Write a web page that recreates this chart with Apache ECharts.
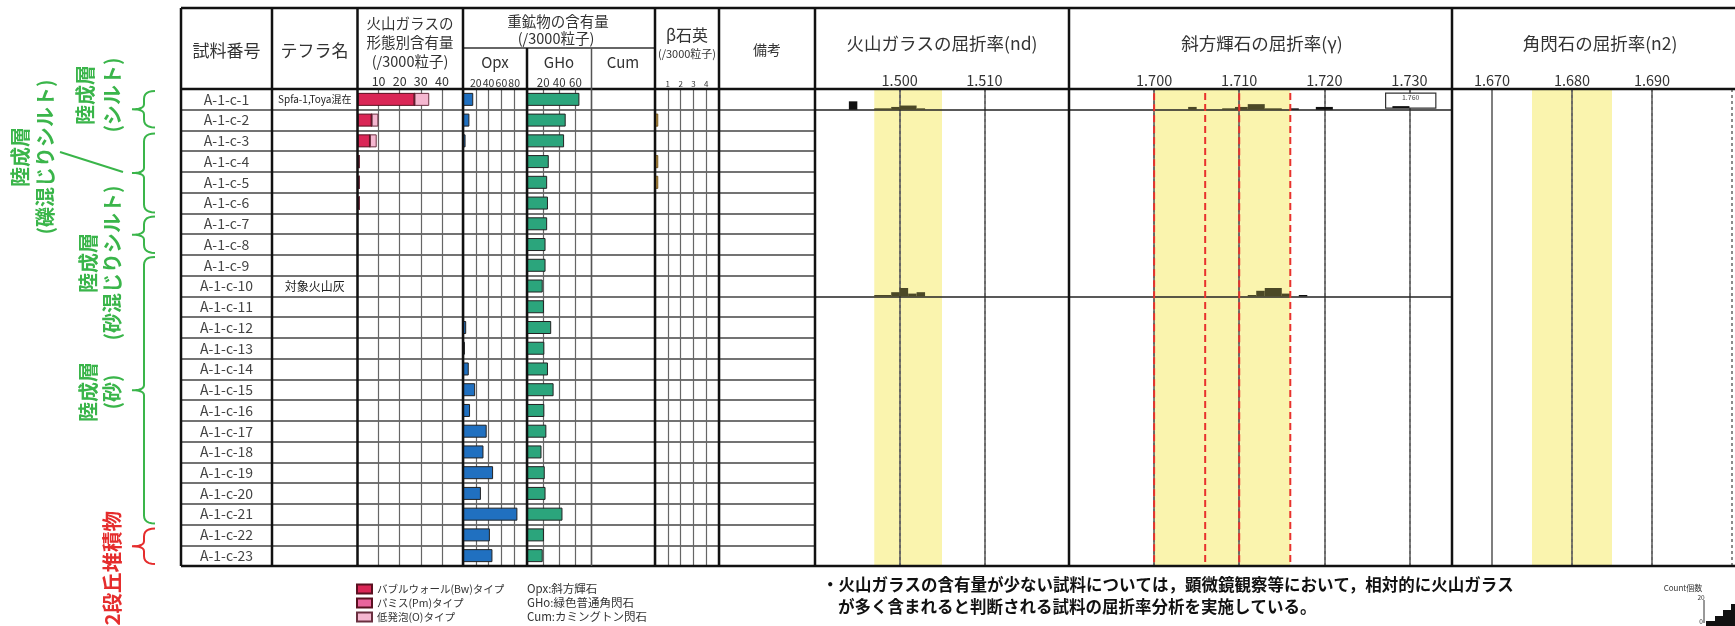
<!DOCTYPE html>
<html>
<head>
<meta charset="utf-8">
<script src="https://cdn.jsdelivr.net/npm/echarts@6/dist/echarts.min.js"></script>
<style>
html, body { margin: 0; padding: 0; background: #fff; }
#main { width: 1735px; height: 626px; }
</style>
</head>
<body>
<div id="main"></div>
<script>
var sampleIds = ['A-1-c-1', 'A-1-c-2', 'A-1-c-3', 'A-1-c-4', 'A-1-c-5', 'A-1-c-6', 'A-1-c-7', 'A-1-c-8',
    'A-1-c-9', 'A-1-c-10', 'A-1-c-11', 'A-1-c-12', 'A-1-c-13', 'A-1-c-14', 'A-1-c-15', 'A-1-c-16',
    'A-1-c-17', 'A-1-c-18', 'A-1-c-19', 'A-1-c-20', 'A-1-c-21', 'A-1-c-22', 'A-1-c-23'];
var tephraNames = ['Spfa-1,Toya混在', '', '', '', '', '', '', '', '', '対象火山灰', '', '', '', '', '', '', '', '', '', '', '', '', ''];

// 火山ガラスの形態別含有量 (/3000粒子)
var glassBw = [27, 6.7, 5.9, 0.8, 0.8, 0.9, 0, 0, 0, 0, 0, 0, 0, 0, 0, 0, 0, 0, 0, 0, 0, 0, 0];
var glassPm = [0, 0, 0, 0, 0, 0, 0, 0, 0, 0, 0, 0, 0, 0, 0, 0, 0, 0, 0, 0, 0, 0, 0];
var glassO = [7, 3.2, 3.2, 0, 0, 0, 0, 0, 0, 0, 0, 0, 0, 0, 0, 0, 0, 0, 0, 0, 0, 0, 0];
// 重鉱物の含有量 (/3000粒子)
var opx = [16, 10, 4, 0, 0, 0, 0, 0, 0, 0, 0, 5, 3, 9, 19, 11, 37, 32, 47, 28, 85, 42, 46];
var gho = [65, 48, 46, 27, 25, 26, 25, 23, 23, 19.5, 21, 30, 21.5, 26, 33, 21.5, 24, 18, 22, 23, 44, 21, 19.5];
var cum = [0, 0, 0, 0, 0, 0, 0, 0, 0, 0, 0, 0, 0, 0, 0, 0, 0, 0, 0, 0, 0, 0, 0];
var betaQz = [0, 0.25, 0, 0.25, 0.25, 0, 0, 0, 0, 0, 0, 0, 0, 0, 0, 0, 0, 0, 0, 0, 0, 0, 0];

var glassTicks = [10, 20, 30, 40];
var opxTicks = [20, 40, 60, 80];
var ghoTicks = [20, 40, 60];
var betaTicks = [1, 2, 3, 4];

// 屈折率 histograms: [from, to, count]
var glassHistA1c1 = [[1.494, 1.495, 6], [1.497, 1.499, 1], [1.499, 1.500, 2], [1.500, 1.502, 3], [1.502, 1.503, 1]];
var glassHistA1c10 = [[1.497, 1.499, 1], [1.499, 1.500, 3], [1.500, 1.501, 6], [1.501, 1.502, 2], [1.502, 1.503, 3]];
var opxHistA1c1 = [[1.704, 1.705, 2], [1.708, 1.7095, 1], [1.7095, 1.711, 2], [1.711, 1.713, 4], [1.713, 1.715, 1],
    [1.716, 1.717, 1], [1.719, 1.721, 2]];
var opxHistA1c10 = [[1.711, 1.712, 1], [1.712, 1.713, 4], [1.713, 1.715, 6], [1.715, 1.716, 2], [1.717, 1.718, 1]];
var opxOutlierA1c1 = [1.760, 1];

var ndTicks = ['1.500', '1.510'];
var ndMinor = [1.495, 1.505, 1.515];
var gammaTicks = ['1.700', '1.710', '1.720', '1.730'];
var gammaMinor = [1.695, 1.705, 1.715, 1.725];
var n2Ticks = ['1.670', '1.680', '1.690'];
var n2Minor = [1.675, 1.685, 1.695];
var ndBand = [1.497, 1.505];
var gammaBand = [1.700, 1.716];
var gammaBoxes = [[1.700, 1.706], [1.710, 1.716]];
var n2Band = [1.675, 1.685];

var FONT = '"Noto Sans CJK JP", "Noto Sans", sans-serif';
var TOP = 8, HB = 89, BOT = 566;
var cols = [181, 272, 357.5, 463, 527, 591.5, 655, 719, 815, 1069, 1452, 1749.5];
var rowPx = (BOT - HB) / sampleIds.length;
var countRows = 1.4 / rowPx; // 1 count = 1.4px

var myChart = echarts.init(document.getElementById('main'));

var grids = [], xAxes = [], yAxes = [];
for (var i = 0; i < cols.length - 1; i++) {
    grids.push({ left: cols[i], width: cols[i + 1] - cols[i], top: HB, height: BOT - HB });
}

function hiddenX(gi) {
    return { type: 'value', gridIndex: gi, min: 0, max: 1, show: false };
}
function tickX(gi, max, ticks, size) {
    return {
        type: 'value', gridIndex: gi, min: 0, max: max, interval: ticks[1] - ticks[0], position: 'top',
        axisLine: { show: false }, axisTick: { show: false },
        axisLabel: {
            margin: 1, fontSize: size, color: '#333', fontFamily: FONT,
            formatter: function (v) { return ticks.indexOf(v) >= 0 ? String(v) : ''; }
        },
        splitLine: { show: true, lineStyle: { color: '#666', width: 1.2 } }
    };
}
function rowY(gi, label) {
    return {
        type: 'category', gridIndex: gi, data: sampleIds, inverse: true,
        axisLine: { show: false }, axisTick: { show: false },
        axisLabel: label || { show: false },
        splitLine: { show: true, interval: 0, lineStyle: { color: '#444', width: 1.5 } }
    };
}

xAxes.push(hiddenX(0));
yAxes.push(rowY(0, { show: true, inside: true, align: 'center', margin: 45.5, interval: 0,
    fontSize: 14, color: '#444', fontFamily: FONT }));
xAxes.push(hiddenX(1));
yAxes.push(rowY(1, { show: true, inside: true, align: 'center', margin: 42.75, interval: 0,
    fontSize: 12, color: '#222', fontFamily: FONT,
    formatter: function (v, idx) {
        var t = tephraNames[idx];
        return t.length > 6 ? '{s|' + t + '}' : t;
    },
    rich: { s: { fontSize: 10, color: '#222', fontFamily: FONT } } }));
xAxes.push(tickX(2, 50, glassTicks, 12.5)); yAxes.push(rowY(2));
xAxes.push(tickX(3, 100, opxTicks, 10.5)); yAxes.push(rowY(3));
xAxes.push(tickX(4, 80, ghoTicks, 11.5)); yAxes.push(rowY(4));
xAxes.push({ type: 'value', gridIndex: 5, min: 0, max: 10, show: false }); yAxes.push(rowY(5));
xAxes.push(tickX(6, 5, betaTicks, 8)); yAxes.push(rowY(6));
xAxes.push(hiddenX(7)); yAxes.push(rowY(7));

function panelX(gi, min, max, ticks) {
    return {
        type: 'value', gridIndex: gi, min: min, max: max, interval: 0.005, position: 'top',
        axisLine: { show: false }, axisTick: { show: false }, splitLine: { show: false },
        axisLabel: {
            margin: 1, fontSize: 14.5, color: '#333', fontFamily: FONT,
            formatter: function (v) { var s = v.toFixed(3); return ticks.indexOf(s) >= 0 ? s : ''; }
        }
    };
}
function panelY(gi) {
    return { type: 'value', gridIndex: gi, min: 0, max: sampleIds.length, inverse: true, show: false };
}
xAxes.push(panelX(8, 1.490, 1.520, ndTicks)); yAxes.push(panelY(8));
xAxes.push(panelX(9, 1.690, 1.735, gammaTicks)); yAxes.push(panelY(9));
xAxes.push(panelX(10, 1.665, 1.700, n2Ticks)); yAxes.push(panelY(10));

var barBorder = { borderColor: '#222', borderWidth: 1 };
var series = [
    { name: 'バブルウォール(Bw)タイプ', type: 'bar', xAxisIndex: 2, yAxisIndex: 2, stack: 'glass', barWidth: 13,
      itemStyle: { color: '#da2656', borderColor: '#5a1020', borderWidth: 1 }, data: glassBw },
    { name: 'パミス(Pm)タイプ', type: 'bar', xAxisIndex: 2, yAxisIndex: 2, stack: 'glass', barWidth: 13,
      itemStyle: { color: '#e9649c', borderColor: '#5a1020', borderWidth: 1 }, data: glassPm },
    { name: '低発泡(O)タイプ', type: 'bar', xAxisIndex: 2, yAxisIndex: 2, stack: 'glass', barWidth: 13,
      itemStyle: { color: '#f5b7d0', borderColor: '#6a3040', borderWidth: 1 }, data: glassO },
    { name: 'Opx', type: 'bar', xAxisIndex: 3, yAxisIndex: 3, barWidth: 13,
      itemStyle: Object.assign({ color: '#2070c0' }, barBorder), data: opx },
    { name: 'GHo', type: 'bar', xAxisIndex: 4, yAxisIndex: 4, barWidth: 13,
      itemStyle: Object.assign({ color: '#2ba57c' }, barBorder), data: gho },
    { name: 'Cum', type: 'bar', xAxisIndex: 5, yAxisIndex: 5, barWidth: 13,
      itemStyle: Object.assign({ color: '#8a8a8a' }, barBorder), data: cum },
    { name: 'β石英', type: 'bar', xAxisIndex: 6, yAxisIndex: 6, barWidth: 13,
      itemStyle: { color: '#b8903e', borderColor: '#6a4a10', borderWidth: 0.8 }, data: betaQz }
];

function histSeries(gi, rows, band) {
    var data = [];
    rows.forEach(function (r) {
        var row = sampleIds.indexOf(r[0]);
        r[1].forEach(function (b) { data.push([b[0], b[1], b[2], row]); });
    });
    return {
        type: 'custom', xAxisIndex: gi, yAxisIndex: gi, silent: true, z: 3,
        encode: { x: [0, 1], y: 3 }, data: data,
        renderItem: function (params, api) {
            var lo = api.value(0), hi = api.value(1), n = api.value(2), row = api.value(3);
            var a = api.coord([lo, row + 1]);
            var b = api.coord([hi, row + 1 - n * countRows]);
            var inBand = lo >= band[0] - 1e-9 && hi <= band[1] + 1e-9;
            return { type: 'rect', shape: { x: a[0], y: b[1], width: b[0] - a[0], height: a[1] - b[1] },
                style: { fill: inBand ? '#4b4826' : '#111' } };
        }
    };
}

function panelMarks(gi, ticks, minors, band, baseRows, boxes) {
    var lines = [];
    ticks.forEach(function (t) {
        lines.push({ xAxis: parseFloat(t), lineStyle: { type: 'solid', color: '#555', width: 1.5 } });
    });
    minors.forEach(function (t) {
        lines.push({ xAxis: t, lineStyle: { type: [3, 3], color: '#666', width: 1.5 } });
    });
    baseRows.forEach(function (id) {
        lines.push({ yAxis: sampleIds.indexOf(id) + 1, lineStyle: { type: 'solid', color: '#222', width: 1.5 } });
    });
    var out = [{
        type: 'line', xAxisIndex: gi, yAxisIndex: gi, data: [], silent: true,
        markArea: { silent: true, z: 1, itemStyle: { color: '#faf4ae' },
            data: [[{ xAxis: band[0] }, { xAxis: band[1] }]] },
        markLine: { silent: true, z: 2, symbol: ['none', 'none'], label: { show: false }, data: lines }
    }];
    if (boxes) {
        out.push({
            type: 'line', xAxisIndex: gi, yAxisIndex: gi, data: [], silent: true,
            markArea: { silent: true, z: 6,
                itemStyle: { color: 'rgba(0,0,0,0)', borderColor: '#e8322d', borderWidth: 2, borderType: [7, 4] },
                data: boxes.map(function (b) { return [{ xAxis: b[0] }, { xAxis: b[1] }]; }) }
        });
    }
    return out;
}

series = series.concat(panelMarks(8, ndTicks, ndMinor, ndBand, ['A-1-c-1', 'A-1-c-10']));
series.push(histSeries(8, [['A-1-c-1', glassHistA1c1], ['A-1-c-10', glassHistA1c10]], ndBand));
series = series.concat(panelMarks(9, gammaTicks, gammaMinor, gammaBand, ['A-1-c-1', 'A-1-c-10'], gammaBoxes));
series.push(histSeries(9, [['A-1-c-1', opxHistA1c1], ['A-1-c-10', opxHistA1c10]], gammaBand));
series = series.concat(panelMarks(10, n2Ticks, n2Minor, n2Band, []));

// out-of-range value box (1.760) drawn next to the last tick of the γ panel
var lastTick = parseFloat(gammaTicks[gammaTicks.length - 1]);
series.push({
    type: 'custom', xAxisIndex: 9, yAxisIndex: 9, silent: true, z: 4,
    encode: { x: 0, y: 2 },
    data: [[opxOutlierA1c1[0], opxOutlierA1c1[1], sampleIds.indexOf('A-1-c-1')]],
    renderItem: function (params, api) {
        var v = api.value(0), n = api.value(1), row = api.value(2);
        var p0 = api.coord([lastTick - 0.0028, row + 0.2]);
        var p1 = api.coord([lastTick + 0.0031, row + 0.92]);
        var b0 = api.coord([lastTick - 0.002, row + 0.92]);
        var b1 = api.coord([lastTick, row + 0.92 - n * countRows * 1.4]);
        return { type: 'group', children: [
            { type: 'rect', shape: { x: p0[0], y: p0[1], width: p1[0] - p0[0], height: p1[1] - p0[1] },
              style: { fill: '#fff', stroke: '#333', lineWidth: 1.2 } },
            { type: 'text', x: (p0[0] + p1[0]) / 2, y: p0[1] + 4,
              style: { text: v.toFixed(3), fontSize: 7, fill: '#444', fontFamily: FONT, align: 'center', verticalAlign: 'middle' } },
            { type: 'rect', shape: { x: b0[0], y: b1[1], width: b1[0] - b0[0], height: b0[1] - b1[1] },
              style: { fill: '#111' } }
        ] };
    }
});

// ---------- static drawing: table frame, headers, notes ----------
var green = '#3ab54a', red = '#e52d2d';
function txt(s, x, y, size, opt) {
    opt = opt || {};
    var al = opt.align || 'center';
    return { type: 'text', x: x, y: y, rotation: opt.rot || 0, silent: true, z: 20,
        style: { text: s, fill: opt.color || '#333', fontSize: size, fontWeight: opt.bold ? 'bold' : 'normal',
            fontFamily: FONT, align: al, textAlign: al, verticalAlign: 'middle', textVerticalAlign: 'middle',
            lineHeight: opt.lh || size * 1.2 } };
}
function ln(x1, y1, x2, y2, w, c) {
    return { type: 'line', silent: true, z: 15, shape: { x1: x1, y1: y1, x2: x2, y2: y2 },
        style: { stroke: c || '#111', lineWidth: w } };
}
// quadratic curve sampled into points
function quad(p0, c, p1, pts) {
    for (var k = 1; k <= 6; k++) {
        var t = k / 6, u = 1 - t;
        pts.push([u * u * p0[0] + 2 * u * t * c[0] + t * t * p1[0], u * u * p0[1] + 2 * u * t * c[1] + t * t * p1[1]]);
    }
}
function brace(top, bot, c) {
    var mid = (top + bot) / 2, pts = [[155, top]];
    quad([155, top], [144, top], [144, top + 8], pts);
    pts.push([144, mid - 5]);
    quad([144, mid - 5], [144, mid], [132, mid], pts);
    quad([132, mid], [144, mid], [144, mid + 5], pts);
    pts.push([144, bot - 8]);
    quad([144, bot - 8], [144, bot], [155, bot], pts);
    return { type: 'polyline', silent: true, z: 15, shape: { points: pts },
        style: { stroke: c, lineWidth: 2, fill: null } };
}
function rowTop(i) { return HB + i * rowPx; }

var g = [];
g.push(ln(181, TOP, 1735, TOP, 2.5));
g.push(ln(181, HB, 1735, HB, 2.5));
g.push(ln(181, BOT, 1735, BOT, 2.5));
g.push(ln(463, 48, 655, 48, 1.5, '#333'));
[181, 272, 357.5, 463, 655, 719, 815, 1069, 1452].forEach(function (x) { g.push(ln(x, TOP, x, BOT, 2.5)); });
g.push(ln(527, 48, 527, BOT, 2.5));
g.push(ln(591.5, 48, 591.5, BOT, 1.5, '#555'));

g.push(txt('試料番号', 226.5, 51, 17));
g.push(txt('テフラ名', 314.5, 51, 17));
g.push(txt('火山ガラスの', 410, 23, 14.5));
g.push(txt('形態別含有量', 410, 42, 14.5));
g.push(txt('(/3000粒子)', 410, 61, 14.5));
g.push(txt('重鉱物の含有量', 558, 21, 14.5));
g.push(txt('(/3000粒子)', 556, 38, 14.5));
g.push(txt('Opx', 495, 62, 15));
g.push(txt('GHo', 559, 62, 15));
g.push(txt('Cum', 623, 62, 15));
g.push(txt('β石英', 687, 35, 16));
g.push(txt('(/3000粒子)', 687, 54, 11));
g.push(txt('備考', 767, 50, 14));
g.push(txt('火山ガラスの屈折率(nd)', 942, 43, 17.5));
g.push(txt('斜方輝石の屈折率(γ)', 1262, 43, 17.5));
g.push(txt('角閃石の屈折率(n2)', 1600, 43, 17.5));

// stratigraphic labels
g.push(txt('陸成層\n(シルト)', 98.5, 95, 20, { rot: Math.PI / 2, color: green, bold: true, lh: 27 }));
g.push(txt('陸成層\n(礫混じりシルト)', 32.5, 157, 20, { rot: Math.PI / 2, color: green, bold: true, lh: 25 }));
g.push(txt('陸成層\n(砂混じりシルト)', 100, 263, 20, { rot: Math.PI / 2, color: green, bold: true, lh: 24 }));
g.push(txt('陸成層\n(砂)', 100, 392, 20, { rot: Math.PI / 2, color: green, bold: true, lh: 24 }));
g.push(txt('2段丘堆積物', 112, 511, 20.5, { rot: Math.PI / 2, color: red, bold: true, align: 'right' }));
g.push(ln(60, 152, 123, 172, 2, green));
g.push(brace(rowTop(0) + 2, rowTop(2) - 3, green));
g.push(brace(rowTop(2) + 3, rowTop(6) - 1, green));
g.push(brace(rowTop(6) + 3, rowTop(8) - 2, green));
g.push(brace(rowTop(8) + 2, rowTop(21) - 1, green));
g.push(brace(rowTop(21) + 4, rowTop(23) - 2, red));

// legends / notes
g.push(txt('Opx:斜方輝石', 527, 589, 11.5, { align: 'left' }));
g.push(txt('GHo:緑色普通角閃石', 527, 603, 11.5, { align: 'left' }));
g.push(txt('Cum:カミングトン閃石', 527, 617, 11.5, { align: 'left' }));
g.push(txt('・火山ガラスの含有量が少ない試料については，顕微鏡観察等において，相対的に火山ガラス', 822, 585, 16.5,
    { align: 'left', bold: true, color: '#111' }));
g.push(txt('が多く含まれると判断される試料の屈折率分析を実施している。', 838, 607, 16.5,
    { align: 'left', bold: true, color: '#111' }));
g.push(txt('Count個数', 1683, 588, 8));
g.push(txt('20', 1701, 598, 6.5));
g.push(txt('0', 1701, 622, 6.5));
g.push(ln(1704, 600, 1704, 623, 1, '#333'));
g.push({ type: 'polygon', silent: true, z: 15,
    shape: { points: [[1706, 626], [1706, 621], [1715, 621], [1715, 616], [1723, 616], [1723, 610],
        [1731, 610], [1731, 604], [1735, 604], [1735, 626]] },
    style: { fill: '#111' } });

var option = {
    animation: false,
    backgroundColor: '#fff',
    textStyle: { fontFamily: FONT },
    legend: {
        left: 356, top: 582, height: 44, orient: 'vertical', padding: 0, itemGap: 0,
        itemWidth: 15, itemHeight: 9, icon: 'rect', selectedMode: false,
        textStyle: { fontSize: 10.5, color: '#333', lineHeight: 14, fontFamily: FONT },
        data: ['バブルウォール(Bw)タイプ', 'パミス(Pm)タイプ', '低発泡(O)タイプ']
    },
    grid: grids,
    xAxis: xAxes,
    yAxis: yAxes,
    series: series,
    graphic: g
};

myChart.setOption(option);
</script>
</body>
</html>
